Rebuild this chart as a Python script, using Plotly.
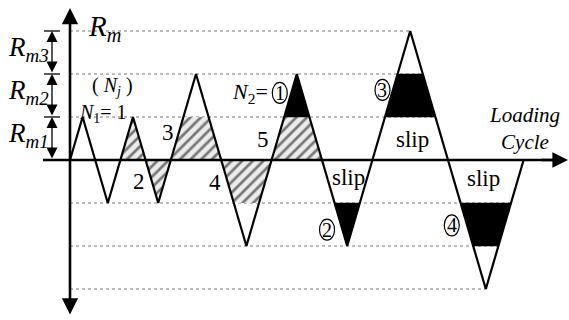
import numpy as np
import plotly.graph_objects as go

# Loading history: turning points (cycle position, load level in units of R_m1)
turn_x = [0, 1, 3, 5, 7, 10, 14, 18, 22, 27, 33, 36]
turn_y = [0, 1, -1, 1, -1, 2, -2, 2, -2, 3, -3, 0]

# Reference levels drawn as dotted guides
guide_levels = [3, 2, 1, -1, -2, -3]

# Shaded bands: (turning-point index, lower level, upper level)
hatched_bands = [(3, 0, 1), (4, -1, 0), (5, 0, 1), (6, -1, 0), (7, 0, 1)]
solid_bands = [(7, 1, 2), (8, -2, -1), (9, 1, 2), (10, -2, -1)]

# Cycle numbers and circled markers
cycle_labels = ["2", "3", "4", "5"]
cycle_pos = [(5.5, -0.5), (7.8, 0.63), (11.5, -0.52), (15.3, 0.47)]
circled_labels = ["1", "2", "3", "4"]
circled_pos = [(16.65, 1.56), (20.4, -1.62), (24.8, 1.63), (30.3, -1.52)]
slip_pos = [(27.2, 0.47), (22.1, -0.4), (32.8, -0.44)]
range_labels = ["<i>R<sub>m3</sub></i>", "<i>R<sub>m2</sub></i>", "<i>R<sub>m1</sub></i>"]
range_levels = [(3, 2), (2, 1), (1, 0)]

SERIF = "Liberation Serif, Times New Roman, Tinos, DejaVu Serif, serif"
PX_X = 12.6   # pixels per cycle unit
PX_Y = 43.0   # pixels per level unit


def band_polygon(i, lo, hi):
    """Region of the peak/trough at turning point i lying between two levels."""
    xm, ym = turn_x[i], turn_y[i]
    xl, yl = turn_x[i - 1], turn_y[i - 1]
    xr, yr = turn_x[i + 1], turn_y[i + 1]

    def at(xa, ya, lvl):
        return xm + (xa - xm) * (lvl - ym) / (ya - ym)

    a, b = (lo, hi) if ym > 0 else (hi, lo)
    xs = [at(xl, yl, a), at(xl, yl, b), at(xr, yr, b), at(xr, yr, a), at(xl, yl, a)]
    ys = [a, b, b, a, a]
    return xs, ys


def last_crossing(level):
    """Last cycle position where the load history passes through a level."""
    best = 0.0
    for k in range(len(turn_x) - 1):
        y0, y1 = turn_y[k], turn_y[k + 1]
        if min(y0, y1) <= level <= max(y0, y1) and y0 != y1:
            x = turn_x[k] + (turn_x[k + 1] - turn_x[k]) * (level - y0) / (y1 - y0)
            best = max(best, x)
    return best


fig = go.Figure()

# dotted reference levels
for lvl in guide_levels:
    fig.add_trace(go.Scatter(
        x=[0, last_crossing(lvl)], y=[lvl, lvl], mode="lines",
        line=dict(color="#7a7a7a", width=1.1, dash="dot"),
        hoverinfo="skip", showlegend=False))

# hatched (non-damaging) bands
for i, lo, hi in hatched_bands:
    xs, ys = band_polygon(i, lo, hi)
    fig.add_trace(go.Scatter(
        x=xs, y=ys, mode="lines", fill="toself",
        fillcolor="#e8e8e8", line=dict(width=0),
        fillpattern=dict(shape="/", fgcolor="black", bgcolor="#ececec",
                         size=7.5, solidity=0.36),
        hoverinfo="skip", showlegend=False))

# solid (damaging) bands
for i, lo, hi in solid_bands:
    xs, ys = band_polygon(i, lo, hi)
    fig.add_trace(go.Scatter(
        x=xs, y=ys, mode="lines", fill="toself", fillcolor="black",
        line=dict(color="black", width=0.5),
        hoverinfo="skip", showlegend=False))

# load history
fig.add_trace(go.Scatter(
    x=turn_x, y=turn_y, mode="lines",
    line=dict(color="black", width=2.2),
    hoverinfo="skip", showlegend=False))

x_left = -70 / PX_X
x_right = (569 - 70) / PX_X
y_half = 160 / PX_Y


def ux(px):
    return (px - 70) / PX_X


def vy(py):
    return (160 - py) / PX_Y


shapes = []
# horizontal axis line (starts left of the vertical axis)
shapes.append(dict(type="line", x0=ux(43), x1=ux(560), y0=0, y1=0,
                   line=dict(color="black", width=2.6)))
# dimension ticks
for lvl in [3, 2, 1]:
    shapes.append(dict(type="line", x0=ux(44), x1=ux(60), y0=lvl, y1=lvl,
                       line=dict(color="black", width=1.3)))
# rings round the circled markers
for x, y in circled_pos:
    shapes.append(dict(type="circle", xref="x", yref="y",
                       xsizemode="pixel", ysizemode="pixel",
                       xanchor=x, yanchor=y, x0=-7.5, x1=7.5, y0=-10.5, y1=10.5,
                       line=dict(color="black", width=1.2)))

annotations = []
# vertical axis with arrows at both ends
annotations.append(dict(x=0, y=vy(8), ax=0, ay=vy(316), xref="x", yref="y",
                        axref="x", ayref="y", showarrow=True, arrowhead=2,
                        arrowside="end+start", arrowsize=1.25, arrowwidth=2.6,
                        arrowcolor="black", text=""))
# horizontal axis arrow
annotations.append(dict(x=ux(568), y=0, ax=ux(540), ay=0, xref="x", yref="y",
                        axref="x", ayref="y", showarrow=True, arrowhead=2,
                        arrowsize=1.2, arrowwidth=2.6, arrowcolor="black", text=""))
# dimension arrows for R_m1..R_m3
for (top, bot), lab in zip(range_levels, range_labels):
    annotations.append(dict(x=ux(52), y=top, ax=ux(52), ay=bot, xref="x", yref="y",
                            axref="x", ayref="y", showarrow=True, arrowhead=2,
                            arrowside="end+start", arrowsize=1.7, arrowwidth=1.3,
                            arrowcolor="black", text=""))
    annotations.append(dict(x=ux(51), y=(top + bot) / 2 + 0.07, xref="x", yref="y",
                            text=lab, showarrow=False, xanchor="right", yanchor="middle",
                            font=dict(family=SERIF, size=27, color="black")))

# R_m at the top level
annotations.append(dict(x=ux(86), y=vy(28), xref="x", yref="y",
                        text="<i>R<sub>m</sub></i>", showarrow=False,
                        xanchor="left", yanchor="middle",
                        font=dict(family=SERIF, size=29, color="black")))

# counting labels
annotations.append(dict(x=ux(112), y=vy(86), xref="x", yref="y",
                        text="( <i>N<sub>j</sub></i> )", showarrow=False,
                        font=dict(family=SERIF, size=20, color="black")))
annotations.append(dict(x=ux(103), y=vy(113), xref="x", yref="y",
                        text="<i>N</i><sub>1</sub>= 1", showarrow=False,
                        font=dict(family=SERIF, size=20, color="black")))
annotations.append(dict(x=ux(270), y=vy(93), xref="x", yref="y",
                        text="<i>N</i><sub>2</sub>=", showarrow=False,
                        xanchor="right",
                        font=dict(family=SERIF, size=22, color="black")))
for lab, (x, y) in zip(cycle_labels, cycle_pos):
    annotations.append(dict(x=x, y=y, xref="x", yref="y", text=lab, showarrow=False,
                            font=dict(family=SERIF, size=23, color="black")))
for lab, (x, y) in zip(circled_labels, circled_pos):
    annotations.append(dict(x=x, y=y, xref="x", yref="y", text=lab, showarrow=False,
                            font=dict(family=SERIF, size=20, color="black")))
for x, y in slip_pos:
    annotations.append(dict(x=x, y=y, xref="x", yref="y", text="slip", showarrow=False,
                            font=dict(family=SERIF, size=23, color="black")))
annotations.append(dict(x=ux(524), y=vy(128), xref="x", yref="y",
                        text="<i>Loading</i><br><i>Cycle</i>", showarrow=False,
                        font=dict(family=SERIF, size=21, color="black")))

fig.update_layout(
    width=569, height=320,
    margin=dict(l=0, r=0, t=0, b=0),
    paper_bgcolor="white", plot_bgcolor="white",
    xaxis=dict(range=[x_left, x_right], visible=False, fixedrange=True),
    yaxis=dict(range=[-y_half, y_half], visible=False, fixedrange=True),
    shapes=shapes, annotations=annotations,
    showlegend=False,
)

fig.write_html("out.html")
